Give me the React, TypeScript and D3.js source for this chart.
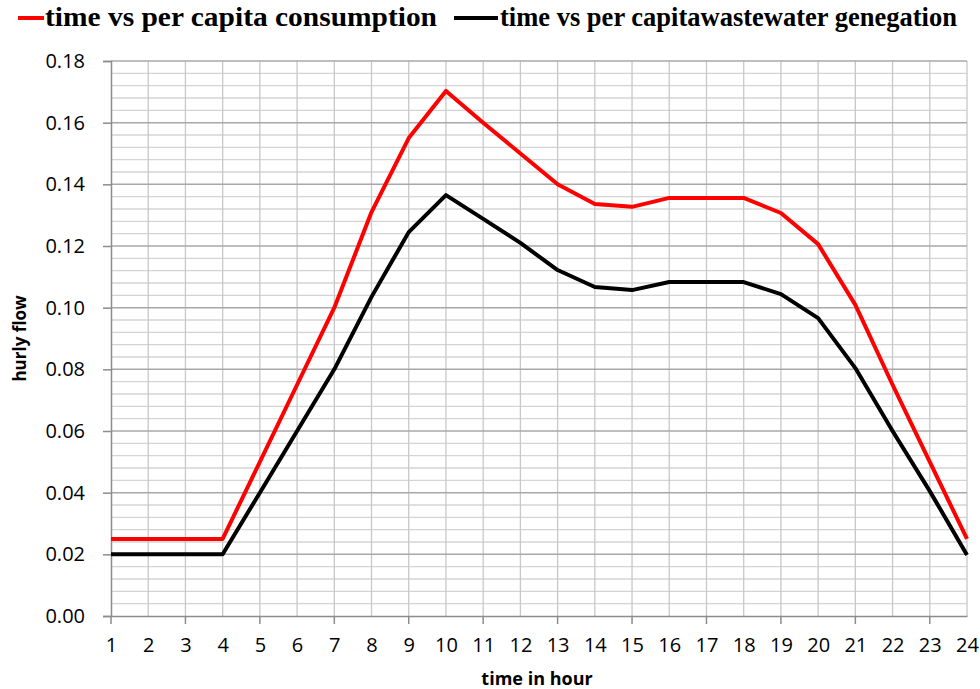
import React, { useEffect, useRef } from "react";
import * as d3 from "d3";

const hours = d3.range(1, 25);
const consumption = [
  0.025, 0.025, 0.025, 0.025, 0.05, 0.075, 0.1, 0.131, 0.155, 0.1703, 0.16,
  0.15, 0.14, 0.1336, 0.1327, 0.1356, 0.1356, 0.1356, 0.1307, 0.1206, 0.1009,
  0.075, 0.05, 0.025,
];
const wastewater = [
  0.02, 0.02, 0.02, 0.02, 0.04, 0.06, 0.08, 0.1035, 0.1245, 0.1365, 0.1288,
  0.121, 0.1122, 0.1067, 0.1057, 0.1083, 0.1083, 0.1083, 0.1044, 0.0966,
  0.0804, 0.06, 0.0405, 0.0198,
];
const yTicks = [0, 0.02, 0.04, 0.06, 0.08, 0.1, 0.12, 0.14, 0.16, 0.18];
const seriesNames = [
  "time vs per capita consumption",
  "time vs per capitawastewater genegation",
];
const seriesColors = ["#ff0000", "#000000"];

export default function App() {
  const ref = useRef<SVGSVGElement>(null);
  const width = 980;
  const height = 689;
  const left = 111;
  const right = 967;
  const top = 61;
  const bottom = 616;

  useEffect(() => {
    const svg = d3.select(ref.current);
    svg.selectAll("*").remove();

    const x = d3.scaleLinear().domain([1, 24]).range([left, right]);
    const y = d3.scaleLinear().domain([0, 0.18]).range([bottom, top]);

    const grid = svg.append("g");
    // minor horizontal grid, 5 per major step
    const minor = d3.range(0, 0.1801, 0.004).filter((v) => Math.round(v * 1000) % 20 !== 0);
    grid
      .selectAll("line.minor")
      .data(minor)
      .join("line")
      .attr("x1", left)
      .attr("x2", right)
      .attr("y1", (d) => y(d))
      .attr("y2", (d) => y(d))
      .attr("stroke", "#d4d4d4")
      .attr("stroke-width", 1.3);
    grid
      .selectAll("line.v")
      .data(hours.slice(1))
      .join("line")
      .attr("x1", (d) => x(d))
      .attr("x2", (d) => x(d))
      .attr("y1", top)
      .attr("y2", bottom)
      .attr("stroke", "#c8c8c8")
      .attr("stroke-width", 1.3);
    grid
      .selectAll("line.major")
      .data(yTicks.slice(1))
      .join("line")
      .attr("x1", left)
      .attr("x2", right)
      .attr("y1", (d) => y(d))
      .attr("y2", (d) => y(d))
      .attr("stroke", "#a8a8a8")
      .attr("stroke-width", 1.5);

    // y axis
    const yAxis = svg
      .append("g")
      .attr("transform", `translate(${left},0)`)
      .call(
        d3
          .axisLeft(y)
          .tickValues(yTicks)
          .tickFormat(d3.format(".2f"))
          .tickSize(8)
          .tickPadding(18)
      );
    yAxis.selectAll("path, line").attr("stroke", "#8c8c8c").attr("stroke-width", 1.5);
    yAxis
      .selectAll("text")
      .attr("font-family", "'Open Sans', sans-serif")
      .attr("font-size", 20)
      .attr("fill", "#000");

    // x axis
    const xAxis = svg
      .append("g")
      .attr("transform", `translate(0,${bottom})`)
      .call(d3.axisBottom(x).tickValues(hours).tickSize(0).tickPadding(22).tickFormat(d3.format("d")));
    xAxis.select("path").attr("stroke", "#8c8c8c").attr("stroke-width", 1.5);
    xAxis
      .selectAll("text")
      .attr("font-family", "'Open Sans', sans-serif")
      .attr("font-size", 20)
      .attr("fill", "#000");
    svg
      .append("g")
      .selectAll("line")
      .data(hours.filter((h) => h % 2 === 1))
      .join("line")
      .attr("x1", (d) => x(d))
      .attr("x2", (d) => x(d))
      .attr("y1", bottom)
      .attr("y2", bottom + 8)
      .attr("stroke", "#8c8c8c")
      .attr("stroke-width", 1.5);

    // lines
    const line = d3
      .line<number>()
      .x((_, i) => x(hours[i]))
      .y((d) => y(d));
    [consumption, wastewater].forEach((s, i) => {
      svg
        .append("path")
        .attr("d", line(s))
        .attr("fill", "none")
        .attr("stroke", seriesColors[i])
        .attr("stroke-width", 4)
        .attr("stroke-linejoin", "round");
    });

    // axis titles
    svg
      .append("text")
      .attr("x", 537)
      .attr("y", 685)
      .attr("text-anchor", "middle")
      .attr("font-family", "'Open Sans', sans-serif")
      .attr("font-weight", "bold")
      .attr("font-size", 18)
      .text("time in hour");
    svg
      .append("text")
      .attr("transform", `translate(26,${(top + bottom) / 2}) rotate(-90)`)
      .attr("text-anchor", "middle")
      .attr("font-family", "'Open Sans', sans-serif")
      .attr("font-weight", "bold")
      .attr("font-size", 17)
      .text("hurly flow");

    // legend
    const legend = [
      { x1: 18, x2: 44, tx: 45, tw: 392 },
      { x1: 454, x2: 498, tx: 500, tw: 457 },
    ];
    legend.forEach((l, i) => {
      svg
        .append("line")
        .attr("x1", l.x1)
        .attr("x2", l.x2)
        .attr("y1", 18)
        .attr("y2", 18)
        .attr("stroke", seriesColors[i])
        .attr("stroke-width", 4);
      svg
        .append("text")
        .attr("x", l.tx)
        .attr("y", 26)
        .attr("font-family", "'Liberation Serif', serif")
        .attr("font-weight", "bold")
        .attr("font-size", 27)
        .attr("textLength", l.tw)
        .attr("lengthAdjust", "spacingAndGlyphs")
        .text(seriesNames[i]);
    });
  }, []);

  return (
    <svg
      ref={ref}
      width={width}
      height={height}
      style={{ position: "absolute", left: 0, top: 0, background: "#fff" }}
    />
  );
}
